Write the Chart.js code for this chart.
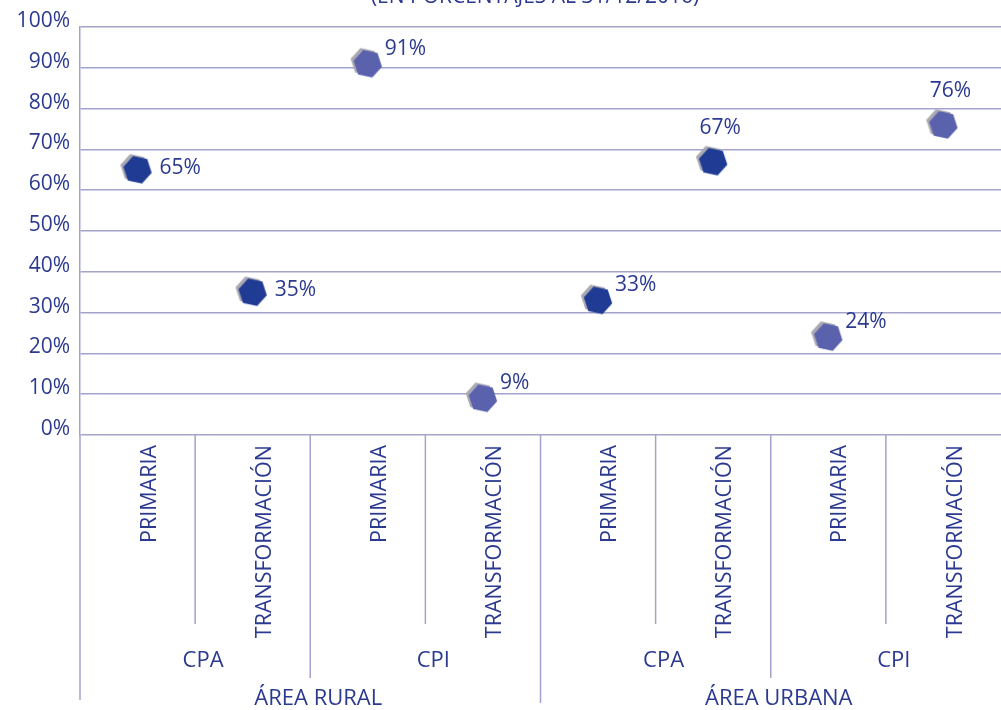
<!DOCTYPE html>
<html>
<head>
<meta charset="utf-8">
<script src="https://cdn.jsdelivr.net/npm/chart.js@4"></script>
<style>
    html, body { margin: 0; padding: 0; background: #fff; overflow: hidden; }
    #wrap { width: 1001px; height: 710px; position: relative; }
</style>
</head>
<body>
<div id="wrap"><canvas id="chart"></canvas></div>
<script>
// Data
const areas = ['ÁREA RURAL', 'ÁREA URBANA'];
const programs = ['CPA', 'CPI', 'CPA', 'CPI'];
const sectors = ['PRIMARIA', 'TRANSFORMACIÓN', 'PRIMARIA', 'TRANSFORMACIÓN',
                 'PRIMARIA', 'TRANSFORMACIÓN', 'PRIMARIA', 'TRANSFORMACIÓN'];
const values = [65, 35, 91, 9, 33, 67, 24, 76];
const yTicks = [0, 10, 20, 30, 40, 50, 60, 70, 80, 90, 100];
const titleText = '(EN PORCENTAJES AL 31/12/2016)';

// where each value label sits relative to its marker
const labelAnchor = ['right', 'right', 'above-right', 'above-right',
                     'above-right', 'above', 'above-right', 'above'];

const TEXT = '#2b3a90';
const GRID = '#a3a3cc';
const CPA_COLOR = '#203b94';
const CPI_COLOR = '#5a61ad';
const FONT = '"Open Sans", sans-serif';

// Hexagon marker with a grey bevel behind it
function makeHex(color) {
    const c = document.createElement('canvas');
    c.width = 38; c.height = 38;
    const g = c.getContext('2d');
    const hex = (cx, cy, r) => {
        g.beginPath();
        for (let i = 0; i < 6; i++) {
            const a = (i * 60 + 12) * Math.PI / 180;
            const px = cx + r * Math.cos(a), py = cy + r * Math.sin(a);
            i ? g.lineTo(px, py) : g.moveTo(px, py);
        }
        g.closePath();
    };
    hex(16, 17, 14.5);
    g.fillStyle = '#a9a9b3';
    g.fill();
    hex(19, 19, 14.5);
    g.fillStyle = color;
    g.fill();
    return c;
}
const hexCPA = makeHex(CPA_COLOR);
const hexCPI = makeHex(CPI_COLOR);

// value labels next to markers
const valueLabels = {
    id: 'valueLabels',
    afterDatasetsDraw(chart) {
        const ctx = chart.ctx;
        const meta = chart.getDatasetMeta(0);
        ctx.save();
        ctx.font = '21px ' + FONT;
        ctx.fillStyle = TEXT;
        ctx.textBaseline = 'middle';
        meta.data.forEach((pt, i) => {
            const txt = values[i] + '%';
            const a = labelAnchor[i];
            if (a === 'right') {
                ctx.textAlign = 'left';
                ctx.fillText(txt, pt.x + 22, pt.y - 2);
            } else if (a === 'above-right') {
                ctx.textAlign = 'left';
                ctx.fillText(txt, pt.x + 17, pt.y - 15);
            } else {
                ctx.textAlign = 'center';
                ctx.fillText(txt, pt.x + 7, pt.y - 34);
            }
        });
        ctx.restore();
    }
};

// hierarchical category axis below the plot + clipped title
const groupAxis = {
    id: 'groupAxis',
    afterDraw(chart) {
        const ctx = chart.ctx;
        const x = chart.scales.x;
        const area = chart.chartArea;
        const base = area.bottom;
        const px = (i) => x.getPixelForValue(i);
        const edge = (i) => (px(i - 1) + px(i)) / 2;

        ctx.save();
        ctx.strokeStyle = GRID;
        ctx.lineWidth = 1.5;
        const vline = (xx, y2) => {
            ctx.beginPath();
            ctx.moveTo(xx, base);
            ctx.lineTo(xx, y2);
            ctx.stroke();
        };
        vline(area.left, base + 265);
        for (let i = 1; i < sectors.length; i++) {
            if (i % 4 === 0) vline(edge(i), base + 268);
            else if (i % 2 === 0) vline(edge(i), base + 243);
            else vline(edge(i), base + 189);
        }

        ctx.fillStyle = TEXT;
        ctx.font = '21.5px ' + FONT;
        sectors.forEach((s, i) => {
            ctx.save();
            ctx.translate(px(i) + 12, base + 10);
            ctx.rotate(-Math.PI / 2);
            ctx.textAlign = 'right';
            ctx.textBaseline = 'middle';
            ctx.fillText(s, 0, 0);
            ctx.restore();
        });

        ctx.textAlign = 'center';
        ctx.textBaseline = 'middle';
        ctx.font = '22px ' + FONT;
        programs.forEach((p, j) => {
            ctx.fillText(p, (px(j * 2) + px(j * 2 + 1)) / 2 + 8, base + 226);
        });
        areas.forEach((a, k) => {
            ctx.fillText(a, (px(k * 4 + 1) + px(k * 4 + 2)) / 2 + 8, base + 264);
        });

        ctx.font = '21px ' + FONT;
        ctx.textBaseline = 'alphabetic';
        ctx.fillText(titleText, 535, 3);
        ctx.restore();
    }
};

function initChart() {
    const ctx = document.getElementById('chart').getContext('2d');
    new Chart(ctx, {
        type: 'line',
        data: {
            labels: sectors,
            datasets: [{
                data: values,
                showLine: false,
                pointStyle: (c) => (Math.floor(c.dataIndex / 2) % 2 === 0 ? hexCPA : hexCPI),
                pointRadius: 15,
                pointHoverRadius: 15
            }]
        },
        options: {
            responsive: true,
            maintainAspectRatio: false,
            animation: false,
            layout: {
                autoPadding: false,
                padding: { top: 27, right: 0, bottom: 275, left: 0 }
            },
            plugins: {
                legend: { display: false },
                tooltip: { enabled: false }
            },
            scales: {
                x: {
                    display: false,
                    offset: true
                },
                y: {
                    min: 0,
                    max: 100,
                    afterFit: (s) => { s.width = 80; },
                    afterBuildTicks: (s) => { s.ticks = yTicks.map(v => ({ value: v })); },
                    border: { color: GRID, width: 1.5 },
                    grid: { color: GRID, lineWidth: 1.5, drawTicks: false },
                    ticks: {
                        color: TEXT,
                        padding: 10,
                        labelOffset: -6,
                        font: { family: 'Open Sans', size: 21 },
                        callback: (v) => v + '%'
                    }
                }
            }
        },
        plugins: [valueLabels, groupAxis]
    });
}

document.addEventListener('DOMContentLoaded', initChart);
</script>
</body>
</html>
